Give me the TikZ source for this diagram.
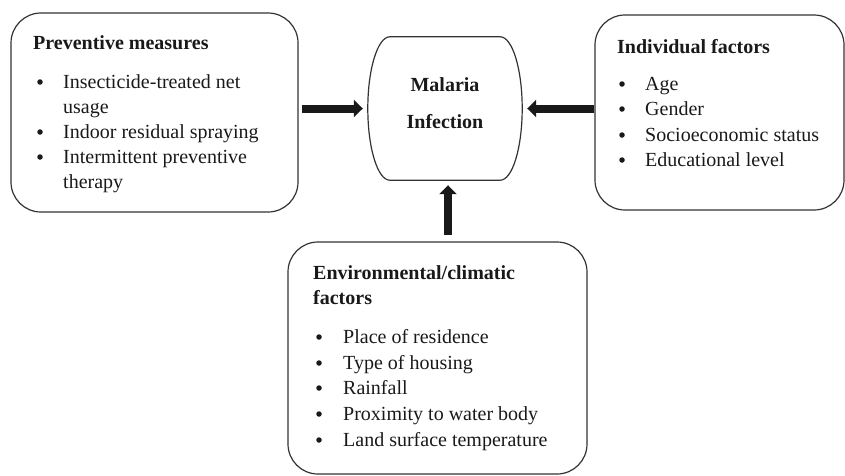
\documentclass[tikz,border=0pt]{standalone}
\usepackage{fontspec}
\setmainfont{Liberation Serif}
\usetikzlibrary{arrows.meta,calc}
\tikzset{
  factorbox/.style={draw=black!80, line width=1.2pt, rounded corners=30pt, inner sep=0pt},
  ttl/.style={anchor=base west, inner sep=0pt, font=\fontsize{20}{24}\selectfont\bfseries, text=black!90},
  itm/.style={anchor=base west, inner sep=0pt, font=\fontsize{20}{24}\selectfont, text=black!90},
  bul/.style={circle, fill=black!90, inner sep=0pt, minimum size=5.5pt, yshift=6pt},
  bigarrow/.style={line width=8pt, black!90, -{Triangle[length=9pt,width=17pt]}},
}
\begin{document}
\begin{tikzpicture}[x=1pt,y=-1pt]
\useasboundingbox (0,0) rectangle (845,475);
% boxes
\node[factorbox, minimum width=287pt, minimum height=199pt] (prev) at (154.5,112.5) {};
\node[factorbox, minimum width=249pt, minimum height=195pt] (indiv) at (719.5,112.5) {};
\node[factorbox, minimum width=299pt, minimum height=232pt] (env) at (437.5,358) {};
% central node
\node[minimum width=154pt, minimum height=143pt, inner sep=0pt] (inf) at (445,108.5) {};
\draw[black!80, line width=1.2pt]
  ($(inf.north west)+(22,0)$) -- ($(inf.north east)+(-22,0)$)
  .. controls ($(inf.north east)+(-9.85,0)$) and ($(inf.east)+(0,-39.5)$) .. (inf.east)
  .. controls ($(inf.east)+(0,39.5)$) and ($(inf.south east)+(-9.85,0)$) .. ($(inf.south east)+(-22,0)$)
  -- ($(inf.south west)+(22,0)$)
  .. controls ($(inf.south west)+(9.85,0)$) and ($(inf.west)+(0,39.5)$) .. (inf.west)
  .. controls ($(inf.west)+(0,-39.5)$) and ($(inf.north west)+(9.85,0)$) .. cycle;
\node[anchor=base, inner sep=0pt, font=\fontsize{20}{24}\selectfont\bfseries, text=black!90] (mal) at (445,91) {Malaria};
\node[anchor=base, inner sep=0pt, font=\fontsize{20}{24}\selectfont\bfseries, text=black!90] (infc) at (445,128) {Infection};
% arrows
\draw[bigarrow, shorten <=3pt, shorten >=5pt] (prev.east |- inf) -- (inf.west);
\draw[bigarrow, shorten <=0pt, shorten >=5pt] (indiv.west |- inf) -- (inf.east);
\draw[bigarrow, shorten <=6pt, shorten >=5pt] ($(inf.center |- env.north)+(3,0)$) -- ($(inf.south)+(3,0)$);
% preventive measures
\node[ttl] (p0) at (33,49) {Preventive measures};
\node[bul] (pb1) at (40,88) {};
\node[itm] (p1) at (63,88) {Insecticide-treated net};
\node[itm] (p1b) at (63,113) {usage};
\node[bul] (pb2) at (40,138) {};
\node[itm] (p2) at (63,138) {Indoor residual spraying};
\node[bul] (pb3) at (40,163) {};
\node[itm] (p3) at (63,163) {Intermittent preventive};
\node[itm] (p3b) at (63,188) {therapy};
% individual factors
\node[ttl] (i0) at (617,53) {Individual factors};
\node[bul] (ib1) at (622,90) {};
\node[itm] (i1) at (645,90) {Age};
\node[bul] (ib2) at (622,115) {};
\node[itm] (i2) at (645,115) {Gender};
\node[bul] (ib3) at (622,141) {};
\node[itm] (i3) at (645,141) {Socioeconomic status};
\node[bul] (ib4) at (622,166) {};
\node[itm] (i4) at (645,166) {Educational level};
% environmental
\node[ttl] (e0) at (313,279) {Environmental/climatic};
\node[ttl] (e0b) at (313,304) {factors};
\node[bul] (eb1) at (319,343) {};
\node[itm] (e1) at (343,343) {Place of residence};
\node[bul] (eb2) at (319,369) {};
\node[itm] (e2) at (343,369) {Type of housing};
\node[bul] (eb3) at (319,394) {};
\node[itm] (e3) at (343,394) {Rainfall};
\node[bul] (eb4) at (319,420) {};
\node[itm] (e4) at (343,420) {Proximity to water body};
\node[bul] (eb5) at (319,446) {};
\node[itm] (e5) at (343,446) {Land surface temperature};
\end{tikzpicture}
\end{document}
